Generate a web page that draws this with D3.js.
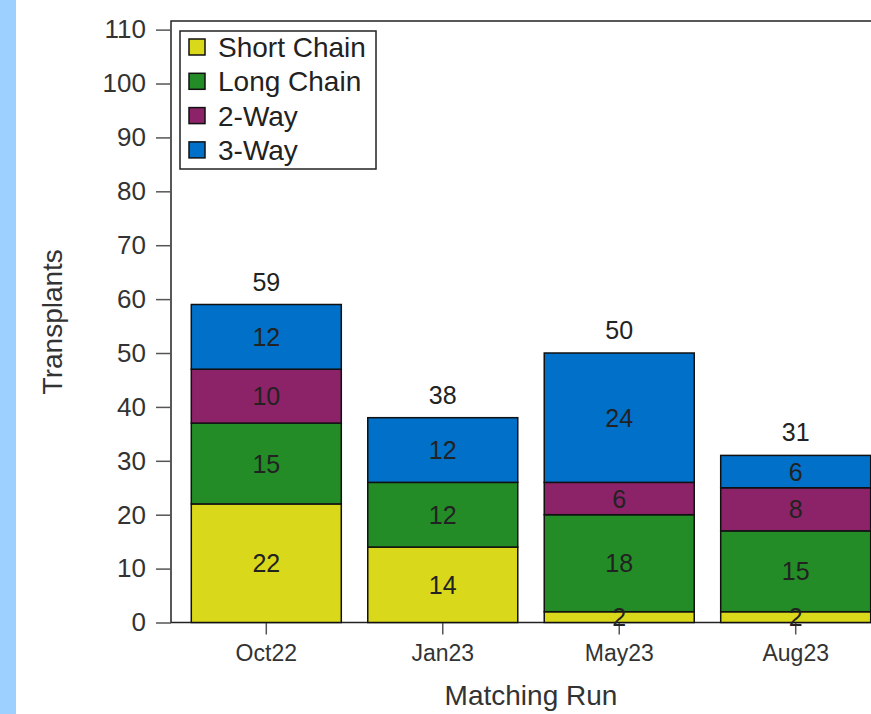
<!DOCTYPE html>
<html>
<head>
<meta charset="utf-8">
<script src="https://cdn.jsdelivr.net/npm/d3@7"></script>
<style>
    body { margin: 0; background: #fff; overflow: hidden; }
    #chart { width: 871px; height: 714px; }
    text { font-family: 'Liberation Sans', Arial, sans-serif; }
</style>
</head>
<body>
<div id="chart"></div>
<script>
/* global d3 */

let runs = ['Oct22', 'Jan23', 'May23', 'Aug23']
let seriesNames = ['Short Chain', 'Long Chain', '2-Way', '3-Way']
let shortChain = [22, 14, 2, 2]
let longChain = [15, 12, 18, 15]
let twoWay = [10, 0, 6, 8]
let threeWay = [12, 12, 24, 6]
let yTicks = [0, 10, 20, 30, 40, 50, 60, 70, 80, 90, 100, 110]
let seriesColors = ['#dad81a', '#238c27', '#8c2368', '#0070c8']

let svgWidth = 871
let svgHeight = 714
let plot = { left: 171, right: 891, top: 21, bottom: 622.5 }

let svg = d3.select('#chart').append('svg')
    .attr('width', svgWidth)
    .attr('height', svgHeight)

// blue page strip on the left
svg.append('rect')
    .attr('x', 0).attr('y', 0)
    .attr('width', 16).attr('height', svgHeight)
    .style('fill', '#9dd0ff')

// table for the stack
let seriesValues = [shortChain, longChain, twoWay, threeWay]
let table = runs.map((run, i) => {
    let row = { run: run }
    seriesNames.forEach((name, k) => { row[name] = seriesValues[k][i] })
    return row
})
let totals = runs.map((run, i) => d3.sum(seriesValues, (s) => s[i]))

let stacked = d3.stack().keys(seriesNames)(table)

let xScale = d3.scaleBand()
    .domain(runs)
    .range([plot.left, plot.right])
    .paddingInner(0.15)
    .paddingOuter(0.115)

let yScale = d3.scaleLinear()
    .domain([0, 111.6])
    .range([plot.bottom, plot.top])

let color = d3.scaleOrdinal().domain(seriesNames).range(seriesColors)

// frame
svg.append('rect')
    .attr('x', plot.left).attr('y', plot.top)
    .attr('width', plot.right - plot.left)
    .attr('height', plot.bottom - plot.top)
    .style('fill', 'none')
    .style('stroke', '#222')
    .style('stroke-width', 1.5)

// axes
let yAxis = svg.append('g').attr('class', 'y-axis')
    .attr('transform', 'translate(' + plot.left + ',0)')
    .call(d3.axisLeft(yScale).tickValues(yTicks).tickSize(15).tickPadding(10))
yAxis.select('.domain').remove()
yAxis.selectAll('line').style('stroke', '#555').style('stroke-width', 1.5)
yAxis.selectAll('text').style('font-size', '26px').style('fill', '#333')
    .attr('font-family', null)

let xAxis = svg.append('g').attr('class', 'x-axis')
    .attr('transform', 'translate(0,' + plot.bottom + ')')
    .call(d3.axisBottom(xScale).tickSize(12).tickPadding(10))
xAxis.select('.domain').remove()
xAxis.selectAll('line').style('stroke', '#555').style('stroke-width', 1.5)
xAxis.selectAll('text').style('font-size', '23px').style('fill', '#333')
    .attr('font-family', null)

// bars
let layers = svg.append('g').attr('class', 'barchart')
    .selectAll('g')
    .data(stacked)
    .enter()
    .append('g')
    .style('fill', (layer) => color(layer.key))

layers.selectAll('rect')
    .data((layer) => layer.filter((d) => d[1] > d[0]))
    .enter()
    .append('rect')
    .attr('x', (d) => xScale(d.data.run))
    .attr('y', (d) => yScale(d[1]))
    .attr('width', xScale.bandwidth())
    .attr('height', (d) => yScale(d[0]) - yScale(d[1]))
    .style('stroke', '#111')
    .style('stroke-width', 1.5)

// segment labels
let segLabels = svg.append('g').attr('class', 'seg-labels')
stacked.forEach((layer) => {
    segLabels.selectAll(null)
        .data(layer.filter((d) => d[1] > d[0]))
        .enter()
        .append('text')
        .attr('x', (d) => xScale(d.data.run) + xScale.bandwidth() / 2)
        .attr('y', (d) => yScale((d[0] + d[1]) / 2))
        .attr('dy', '0.36em')
        .attr('text-anchor', 'middle')
        .style('font-size', '25px')
        .style('fill', '#222')
        .text((d) => d[1] - d[0])
})

// totals on top
svg.append('g').attr('class', 'totals')
    .selectAll('text')
    .data(runs)
    .enter()
    .append('text')
    .attr('x', (run) => xScale(run) + xScale.bandwidth() / 2)
    .attr('y', (run, i) => yScale(totals[i]) - 14)
    .attr('text-anchor', 'middle')
    .style('font-size', '25px')
    .style('fill', '#222')
    .text((run, i) => totals[i])

// axis titles
svg.append('text')
    .attr('transform', 'translate(62,' + ((plot.top + plot.bottom) / 2) + ') rotate(-90)')
    .attr('text-anchor', 'middle')
    .style('font-size', '28px')
    .style('fill', '#333')
    .text('Transplants')

svg.append('text')
    .attr('x', (plot.left + plot.right) / 2)
    .attr('y', 705)
    .attr('text-anchor', 'middle')
    .style('font-size', '28px')
    .style('fill', '#333')
    .text('Matching Run')

// legend
let legend = svg.append('g').attr('class', 'legend')
    .attr('transform', 'translate(180,31)')
legend.append('rect')
    .attr('width', 196).attr('height', 138)
    .style('fill', '#fff')
    .style('stroke', '#222')
    .style('stroke-width', 1.5)

let legendItems = legend.selectAll('g')
    .data(seriesNames)
    .enter()
    .append('g')
    .attr('transform', (name, i) => 'translate(0,' + (16 + i * 34.3) + ')')

legendItems.append('rect')
    .attr('x', 9).attr('y', -8)
    .attr('width', 16).attr('height', 16)
    .style('fill', (name) => color(name))
    .style('stroke', '#111')
    .style('stroke-width', 1.5)

legendItems.append('text')
    .attr('x', 38).attr('y', 10)
    .style('font-size', '28px')
    .style('fill', '#222')
    .text((name) => name)
</script>
</body>
</html>
